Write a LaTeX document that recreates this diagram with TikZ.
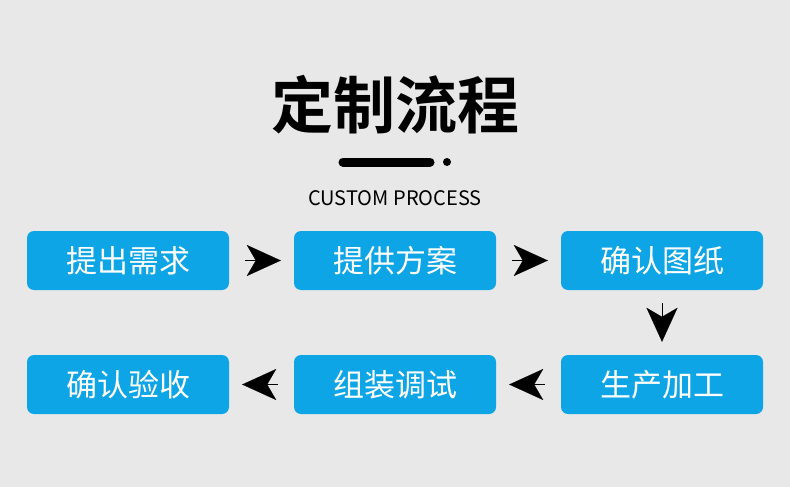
\documentclass[tikz,border=0pt]{standalone}
\usepackage{fontspec}
\newfontfamily\cjk{Noto Sans CJK SC}
\newfontfamily\cjkbold{Noto Sans CJK SC Bold}
\usetikzlibrary{positioning,arrows.meta}
\definecolor{bgray}{HTML}{E8E8E8}
\definecolor{stepblue}{HTML}{0EA5E6}
\begin{document}
\begin{tikzpicture}[x=1pt,y=-1pt,
    stepbox/.style={rectangle, rounded corners=7pt, fill=stepblue, text=white,
        minimum width=202pt, minimum height=59pt, font=\cjk\fontsize{31}{31}\selectfont},
    flow/.style={line width=0.1pt, -{Stealth[length=34pt,width=31pt,inset=9pt]}}
    ]
        \fill[bgray] (0,0) rectangle (790,487);
        %Title
        \node (title) at (395,105) {\cjkbold\fontsize{62}{62}\selectfont 定制流程};
        \draw[line width=9pt, line cap=round] (343,162) -- (430,162);
        \fill (447,162) circle (4pt);
        \node (sub) at (395,198) {\cjk\fontsize{20}{20}\selectfont CUSTOM PROCESS};
        %Nodes
        \node[stepbox] (s1) at (128,260.5) {提出需求};
        \node[stepbox] (s2) at (395,260.5) {提供方案};
        \node[stepbox] (s3) at (662,260.5) {确认图纸};
        \node[stepbox] (s4) at (662,384.5) {生产加工};
        \node[stepbox] (s5) at (395,384.5) {组装调试};
        \node[stepbox] (s6) at (128,384.5) {确认验收};
        %Arrows
        \draw[flow, shorten <=16pt, shorten >=13pt] (s1.east) -- (s2.west);
        \draw[flow, shorten <=16pt, shorten >=13pt] (s2.east) -- (s3.west);
        \draw[flow, shorten <=13pt, shorten >=13pt] (s3.south) -- (s4.north);
        \draw[flow, shorten <=16pt, shorten >=13pt] (s4.west) -- (s5.east);
        \draw[flow, shorten <=16pt, shorten >=13pt] (s5.west) -- (s6.east);
    \end{tikzpicture}
\end{document}
